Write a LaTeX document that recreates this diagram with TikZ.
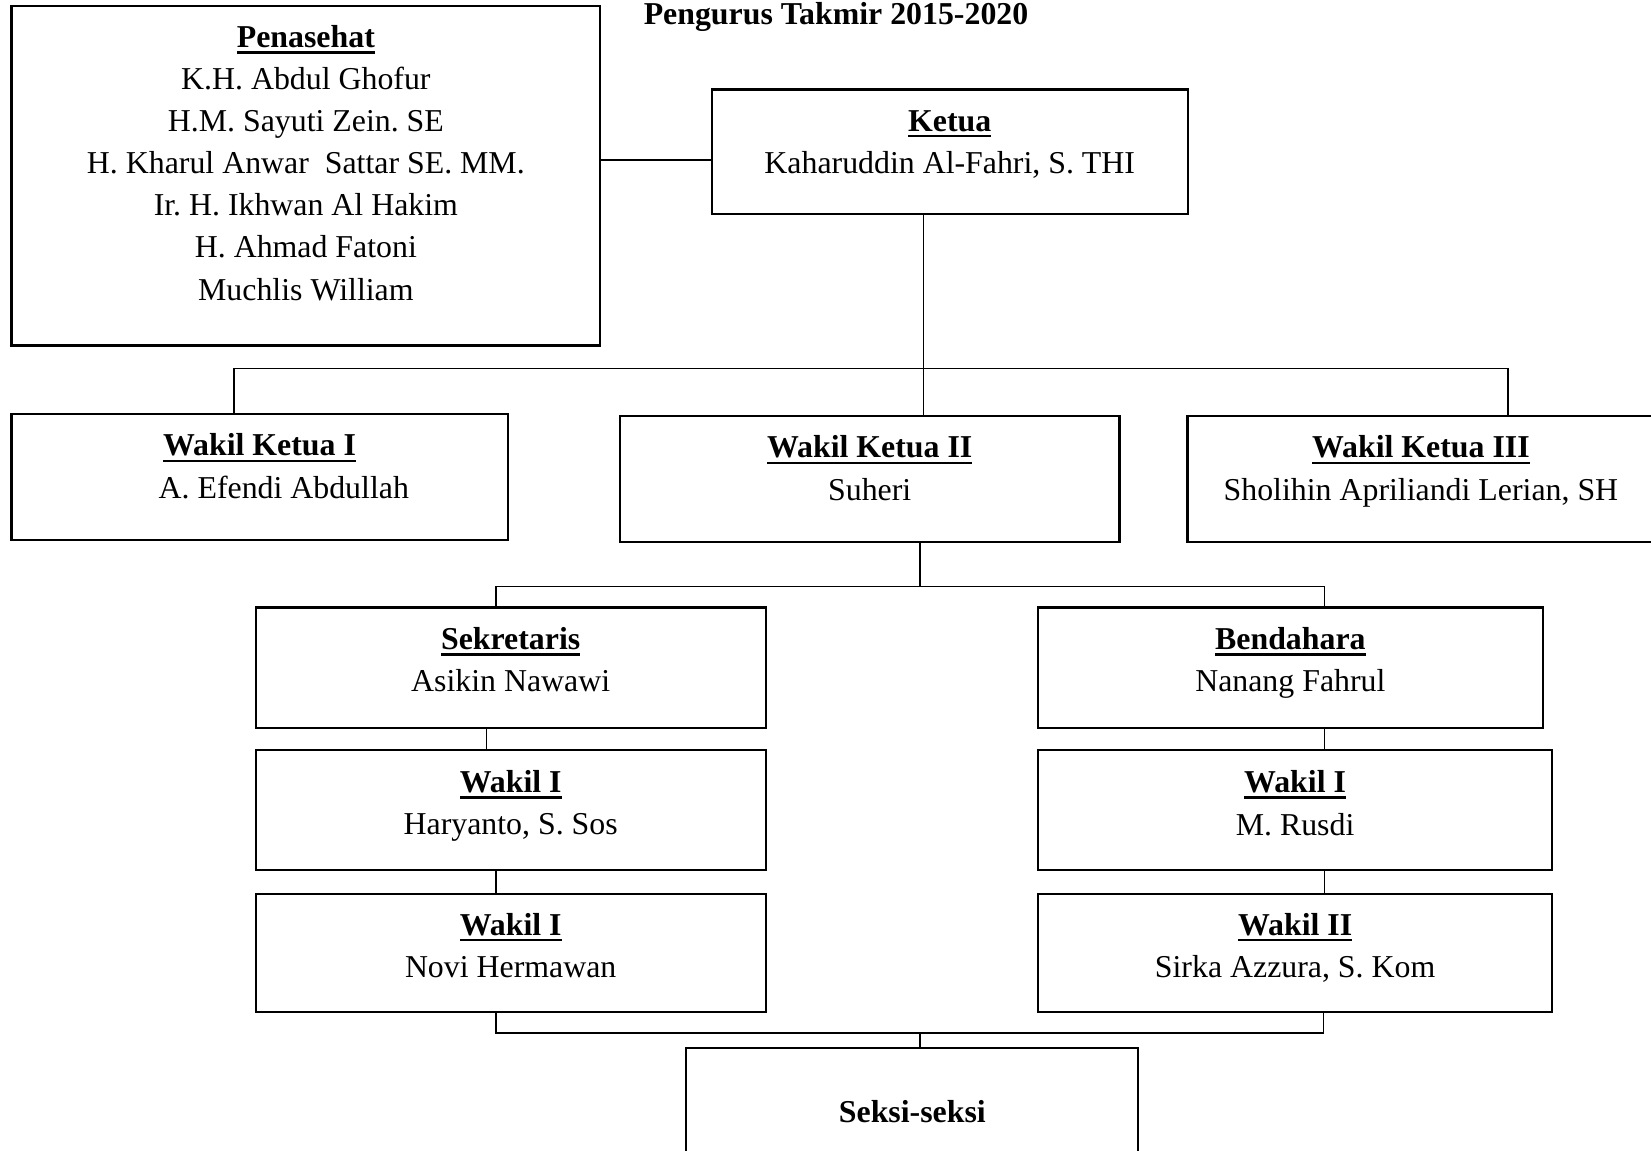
\documentclass[tikz,border=0pt]{standalone}
\usepackage{fontspec}
\setmainfont{Liberation Serif}
\usepackage{tikz}
\newcommand{\garis}[1]{\setbox0\hbox{#1}\rlap{\rule[-1.7pt]{\wd0}{0.7pt}}\box0}
\frenchspacing

\begin{document}
\begin{tikzpicture}[x=0.01cm, y=-0.01cm, node distance=1.355cm,
    box/.style={rectangle, draw=black, line width=0.6pt, inner sep=0pt},
    head/.style={anchor=base, inner sep=0pt, font=\fontsize{8.6}{11.4}\selectfont\bfseries},
    person/.style={anchor=base, inner sep=0pt, font=\fontsize{8.6}{11.4}\selectfont},
    link/.style={line width=0.45pt}]

    \clip (0,0) rectangle (1568,1093);

    \node (judul) [head] at (794,23) {Pengurus Takmir 2015-2020};

    % penasehat dan ketua
    \node (pen) [box, minimum width=5.59cm, minimum height=3.22cm] at (290.5,167) {};
    \node (pen-h) [head] at ([yshift=-0.40cm]pen.north) {\garis{Penasehat}};
    \foreach \nama [count=\i from 0] in {K.H. Abdul Ghofur, H.M. Sayuti Zein. SE,
        H. Kharul Anwar\ \ Sattar SE. MM., Ir. H. Ikhwan Al Hakim, H. Ahmad Fatoni, Muchlis William}
      \node (pen-\i) [person] at ([yshift={-0.80cm-0.4cm*\i}]pen.north) {\nama};

    \node (ketua) [box, minimum width=4.52cm, minimum height=1.18cm] at (902,144) {};
    \node (ketua-h) [head] at ([yshift=-0.405cm]ketua.north) {\garis{Ketua}};
    \node (ketua-n) [person] at ([yshift=-0.81cm]ketua.north) {Kaharuddin Al-Fahri, S. THI};

    % wakil ketua
    \node (wk1) [box, minimum width=4.71cm, minimum height=1.2cm] at (246.5,453) {};
    \node (wk1-h) [head] at ([yshift=-0.41cm]wk1.north) {\garis{Wakil Ketua I}};
    \node (wk1-n) [person] at ([xshift=0.23cm, yshift=-0.81cm]wk1.north) {A. Efendi Abdullah};

    \node (wk2) [box, minimum width=4.74cm, minimum height=1.2cm] at (826,455) {};
    \node (wk2-h) [head] at ([yshift=-0.41cm]wk2.north) {\garis{Wakil Ketua II}};
    \node (wk2-n) [person] at ([yshift=-0.81cm]wk2.north) {Suheri};

    \node (wk3) [box, minimum width=4.43cm, minimum height=1.2cm] at (1349.5,455) {};
    \node (wk3-h) [head] at ([yshift=-0.41cm]wk3.north) {\garis{Wakil Ketua III}};
    \node (wk3-n) [person] at ([yshift=-0.81cm]wk3.north) {Sholihin Apriliandi Lerian, SH};

    % sekretaris
    \node (sek) [box, minimum width=4.84cm, minimum height=1.14cm] at (485,634) {};
    \node (sek-h) [head] at ([yshift=-0.41cm]sek.north) {\garis{Sekretaris}};
    \node (sek-n) [person] at ([yshift=-0.81cm]sek.north) {Asikin Nawawi};

    \node (sw1) [box, minimum width=4.84cm, minimum height=1.14cm, below of=sek] {};
    \node (sw1-h) [head] at ([yshift=-0.41cm]sw1.north) {\garis{Wakil I}};
    \node (sw1-n) [person] at ([yshift=-0.81cm]sw1.north) {Haryanto, S. Sos};

    \node (sw2) [box, minimum width=4.84cm, minimum height=1.12cm, below of=sw1] {};
    \node (sw2-h) [head] at ([yshift=-0.40cm]sw2.north) {\garis{Wakil I}};
    \node (sw2-n) [person] at ([yshift=-0.80cm]sw2.north) {Novi Hermawan};

    % bendahara
    \node (bend) [box, minimum width=4.79cm, minimum height=1.14cm] at (1225.5,634) {};
    \node (bend-h) [head] at ([yshift=-0.41cm]bend.north) {\garis{Bendahara}};
    \node (bend-n) [person] at ([yshift=-0.81cm]bend.north) {Nanang Fahrul};

    \node (bw1) [box, minimum width=4.88cm, minimum height=1.14cm, below of=bend, xshift=0.045cm] {};
    \node (bw1-h) [head] at ([yshift=-0.41cm]bw1.north) {\garis{Wakil I}};
    \node (bw1-n) [person] at ([yshift=-0.82cm]bw1.north) {M. Rusdi};

    \node (bw2) [box, minimum width=4.88cm, minimum height=1.12cm, below of=bw1] {};
    \node (bw2-h) [head] at ([yshift=-0.40cm]bw2.north) {\garis{Wakil II}};
    \node (bw2-n) [person] at ([yshift=-0.80cm]bw2.north) {Sirka Azzura, S. Kom};

    \node (seksi) [box, minimum width=4.29cm, minimum height=1.4cm] at (866.5,1065) {};
    \node (seksi-h) [head] at ([yshift=-0.72cm]seksi.north) {Seksi-seksi};

    % garis
    \coordinate (top) at (877,350);
    \coordinate (c1) at (222,350);
    \coordinate (c3) at (1432,350);
    \coordinate (mid) at (874,557);
    \coordinate (ls) at (471,557);
    \coordinate (rs) at (1258,557);
    \coordinate (bl) at (471,981);
    \coordinate (br) at (1257,981);
    \coordinate (bm) at (874,981);

    \draw [link] ([yshift=-0.08cm]ketua.west) -- ([yshift=-0.08cm]ketua.west -| pen.east);
    \draw [link] (top |- ketua.south) -- (top |- wk2.north);
    \draw [link] (c1 |- wk1.north) -- (c1) -- (c3) -- (c3 |- wk3.north);
    \draw [link] (mid |- wk2.south) -- (mid);
    \draw [link] (ls |- sek.north) -- (ls) -- (rs) -- (rs |- bend.north);
    \draw [link] ([xshift=-0.23cm]sek.south) -- ([xshift=-0.23cm]sek.south |- sw1.north);
    \draw [link] ([xshift=-0.14cm]sw1.south) -- ([xshift=-0.14cm]sw1.south |- sw2.north);
    \draw [link] ([xshift=0.325cm]bend.south) -- ([xshift=0.325cm]bend.south |- bw1.north);
    \draw [link] ([xshift=0.28cm]bw1.south) -- ([xshift=0.28cm]bw1.south |- bw2.north);
    \draw [link] (bl |- sw2.south) -- (bl) -- (br) -- (br |- bw2.south);
    \draw [link] (bm) -- (bm |- seksi.north);

\end{tikzpicture}
\end{document}
